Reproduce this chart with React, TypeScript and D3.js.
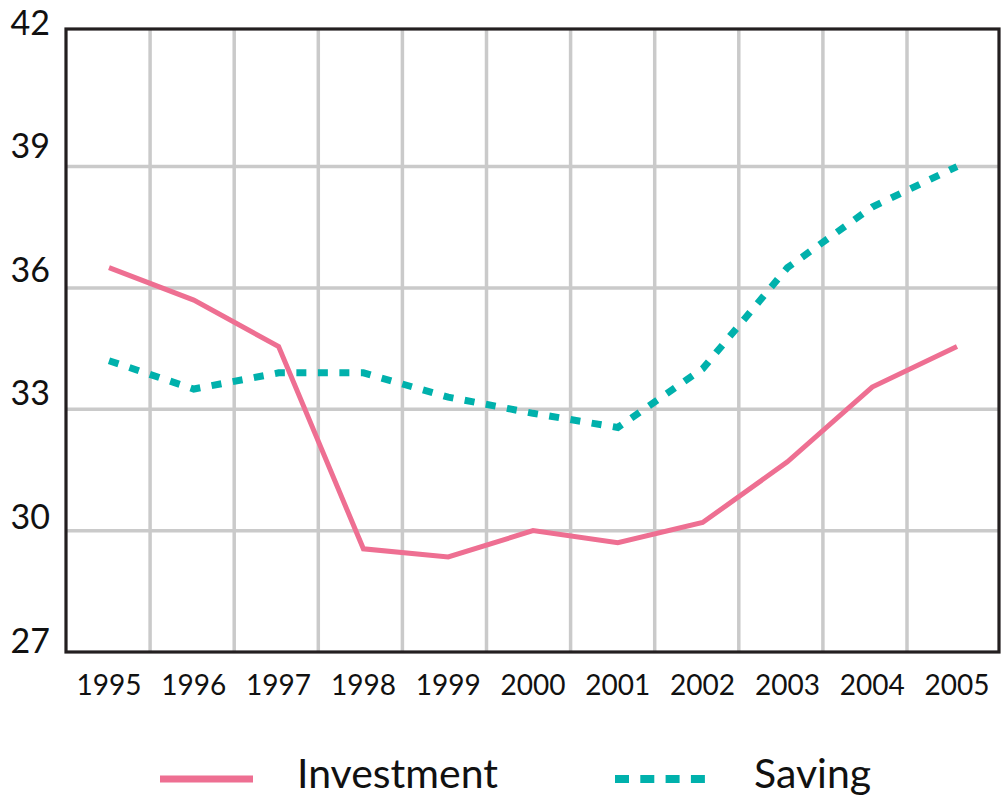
import React from 'react';
import * as d3 from 'd3';

// data
const years = [1995, 1996, 1997, 1998, 1999, 2000, 2001, 2002, 2003, 2004, 2005];
const investment = [36.5, 35.7, 34.55, 29.55, 29.35, 30.0, 29.7, 30.2, 31.7, 33.55, 34.55];
const saving = [34.2, 33.5, 33.9, 33.9, 33.3, 32.9, 32.55, 34.0, 36.5, 38.0, 39.0];
const yTicks = [27, 30, 33, 36, 39, 42];
const seriesNames = ['Investment', 'Saving'];

const PINK = '#EE6F92';
const TEAL = '#00B1AC';
const GRID = '#CACACA';
const FONT = 'Lato, "Open Sans", sans-serif';

const App = () => {
  const width = 1002;
  const height = 801;
  const left = 66;
  const right = 999;
  const top = 29;
  const bottom = 652;

  // value scale (the frame runs a little above 42)
  const y = d3.scaleLinear().domain([27, 42.4]).range([bottom, top]);
  // tick labels sit a bit above their grid lines in the original
  const yLabel = d3.scaleLinear().domain([27, 42]).range([640.5, 22.5]);
  const x = d3.scaleLinear().domain([1995, 2005]).range([109, 957]);
  // vertical grid columns
  const col = d3.scaleLinear().domain([0, 10]).range([left, 907]);

  const line = d3
    .line<number>()
    .x((_, i) => x(years[i]))
    .y((d) => y(d));

  return (
    <svg
      width={width}
      height={height}
      style={{ position: 'absolute', left: 0, top: 0, background: '#fff' }}
    >
      {/* vertical grid */}
      {d3.range(1, 11).map((k) => (
        <line key={'v' + k} x1={col(k)} x2={col(k)} y1={top} y2={bottom} stroke={GRID} strokeWidth={3.5} />
      ))}
      {/* horizontal grid */}
      {yTicks
        .filter((t) => t > 27 && t < 42)
        .map((t) => (
          <line key={'h' + t} x1={left} x2={right} y1={y(t)} y2={y(t)} stroke={GRID} strokeWidth={3.5} />
        ))}

      {/* frame */}
      <rect x={left} y={top} width={right - left} height={bottom - top} fill="none" stroke="#231f20" strokeWidth={3.2} />

      {/* series */}
      <path d={line(investment) || ''} fill="none" stroke={PINK} strokeWidth={5} strokeLinejoin="miter" />
      <path d={line(saving) || ''} fill="none" stroke={TEAL} strokeWidth={7} strokeDasharray="10 11.5" />

      {/* y labels */}
      {yTicks.map((t) => (
        <text key={'yl' + t} x={50} y={yLabel(t) + 12} textAnchor="end" fontFamily={FONT} fontSize={34} fill="#111">
          {t}
        </text>
      ))}

      {/* x labels */}
      {years.map((yr) => (
        <text key={'xl' + yr} x={x(yr)} y={695} textAnchor="middle" fontFamily={FONT} fontSize={28} fill="#111">
          {yr}
        </text>
      ))}

      {/* legend */}
      <line x1={160} x2={253} y1={779} y2={779} stroke={PINK} strokeWidth={7} />
      <text x={297} y={788} fontFamily={FONT} fontSize={41} fill="#111">
        {seriesNames[0]}
      </text>
      <line x1={615} x2={713} y1={779} y2={779} stroke={TEAL} strokeWidth={8} strokeDasharray="14 11.3" />
      <text x={754} y={788} fontFamily={FONT} fontSize={41} fill="#111">
        {seriesNames[1]}
      </text>
    </svg>
  );
};

export default App;
